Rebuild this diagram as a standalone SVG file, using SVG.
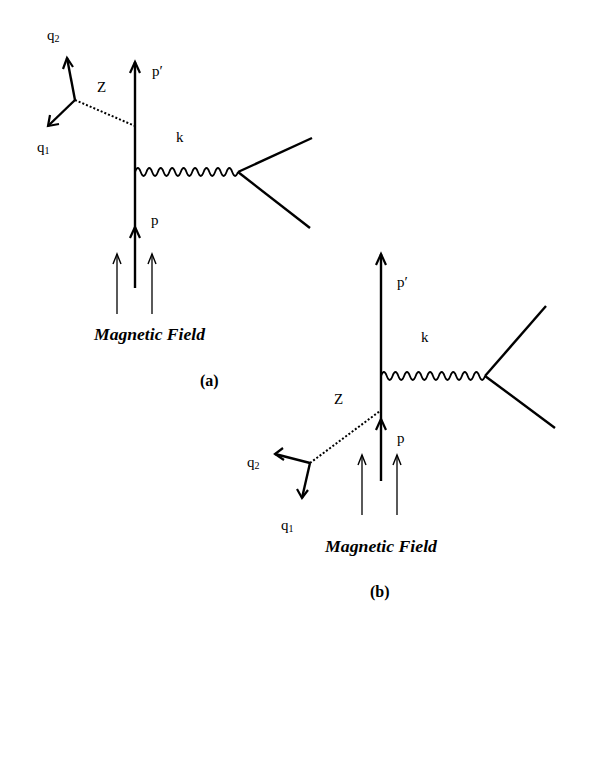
<svg xmlns="http://www.w3.org/2000/svg" width="595" height="770" viewBox="0 0 595 770">
<style>
.f{fill:none;stroke:#000;stroke-width:2.4;stroke-linecap:butt}
.ah{fill:none;stroke:#000;stroke-width:2.2;stroke-linejoin:miter}
.thin{fill:none;stroke:#000;stroke-width:1.3}
.ahs{fill:none;stroke:#000;stroke-width:1.4}
.dot{fill:none;stroke:#000;stroke-width:2;stroke-dasharray:2,2}
.w{fill:none;stroke:#000;stroke-width:1.8}
.t{font-family:"Liberation Serif",serif;font-size:15px;fill:#000}
.sub{font-size:10px}
.mf{font-family:"Liberation Serif",serif;font-size:16.5px;font-weight:bold;font-style:italic;fill:#000}
.lab{font-family:"Liberation Serif",serif;font-size:16px;font-weight:bold;fill:#000}
</style>
<rect width="595" height="770" fill="#fff"/>
<g id="diagram-a">
  <g id="a-fermion">
    <line class="f" x1="135" y1="62" x2="135" y2="288"/>
    <polyline class="ah" points="130,73 135,62 140,73"/>
    <polyline class="ah" points="130,238 135,227 140,238"/>
    <line class="f" x1="238" y1="172" x2="312" y2="138"/>
    <line class="f" x1="238" y1="172" x2="310" y2="228"/>
  </g>
  <g id="a-photon">
    <path class="w" d="M135,172 q2.86,-8 5.72,0 q2.86,8 5.72,0 q2.86,-8 5.72,0 q2.86,8 5.72,0 q2.86,-8 5.72,0 q2.86,8 5.72,0 q2.86,-8 5.72,0 q2.86,8 5.72,0 q2.86,-8 5.72,0 q2.86,8 5.72,0 q2.86,-8 5.72,0 q2.86,8 5.72,0 q2.86,-8 5.72,0 q2.86,8 5.72,0 q2.86,-8 5.72,0 q2.86,8 5.72,0 q2.86,-8 5.72,0 q2.86,8 5.72,0"/>
  </g>
  <g id="a-z">
    <line class="dot" x1="75" y1="100" x2="135" y2="126"/>
    <line class="f" x1="75" y1="100" x2="67" y2="58"/>
    <polyline class="ah" points="63,69 67,58 73,67"/>
    <line class="f" x1="75" y1="100" x2="48" y2="126"/>
    <polyline class="ah" points="50,115 48,126 59,124"/>
  </g>
  <g id="a-field">
    <line class="thin" x1="117" y1="314" x2="117" y2="254"/>
    <polyline class="ahs" points="113,264 117,254 121,264"/>
    <line class="thin" x1="152" y1="314" x2="152" y2="254"/>
    <polyline class="ahs" points="148,264 152,254 156,264"/>
  </g>
  <text class="t" x="47" y="40">q<tspan class="sub" dy="2">2</tspan></text>
  <text class="t" x="37" y="152">q<tspan class="sub" dy="2">1</tspan></text>
  <text class="t" x="97" y="92">Z</text>
  <text class="t" x="152" y="76">p′</text>
  <text class="t" x="176" y="142">k</text>
  <text class="t" x="151" y="225">p</text>
  <text class="mf" x="94" y="340" textLength="111" lengthAdjust="spacingAndGlyphs">Magnetic Field</text>
  <text class="lab" x="200" y="386">(a)</text>
</g>
<g id="diagram-b">
  <g id="b-fermion">
    <line class="f" x1="381" y1="254" x2="381" y2="481"/>
    <polyline class="ah" points="376,265 381,254 386,265"/>
    <polyline class="ah" points="376,430 381,419 386,430"/>
    <line class="f" x1="485" y1="376" x2="546" y2="306"/>
    <line class="f" x1="485" y1="376" x2="555" y2="428"/>
  </g>
  <g id="b-photon">
    <path class="w" d="M381,376 q2.89,-8 5.78,0 q2.89,8 5.78,0 q2.89,-8 5.78,0 q2.89,8 5.78,0 q2.89,-8 5.78,0 q2.89,8 5.78,0 q2.89,-8 5.78,0 q2.89,8 5.78,0 q2.89,-8 5.78,0 q2.89,8 5.78,0 q2.89,-8 5.78,0 q2.89,8 5.78,0 q2.89,-8 5.78,0 q2.89,8 5.78,0 q2.89,-8 5.78,0 q2.89,8 5.78,0 q2.89,-8 5.78,0 q2.89,8 5.78,0"/>
  </g>
  <g id="b-z">
    <line class="dot" x1="310" y1="463" x2="380" y2="411"/>
    <line class="f" x1="310" y1="463" x2="275" y2="454"/>
    <polyline class="ah" points="283,448 275,454 284,460"/>
    <line class="f" x1="310" y1="463" x2="302" y2="498"/>
    <polyline class="ah" points="297,489 302,498 308,490"/>
  </g>
  <g id="b-field">
    <line class="thin" x1="362" y1="515" x2="362" y2="455"/>
    <polyline class="ahs" points="358,465 362,455 366,465"/>
    <line class="thin" x1="397" y1="515" x2="397" y2="455"/>
    <polyline class="ahs" points="393,465 397,455 401,465"/>
  </g>
  <text class="t" x="247" y="467">q<tspan class="sub" dy="2">2</tspan></text>
  <text class="t" x="281" y="530">q<tspan class="sub" dy="2">1</tspan></text>
  <text class="t" x="334" y="404">Z</text>
  <text class="t" x="397" y="287">p′</text>
  <text class="t" x="421" y="342">k</text>
  <text class="t" x="397" y="443">p</text>
  <text class="mf" x="325" y="552" textLength="112" lengthAdjust="spacingAndGlyphs">Magnetic Field</text>
  <text class="lab" x="370" y="597">(b)</text>
</g>
</svg>
